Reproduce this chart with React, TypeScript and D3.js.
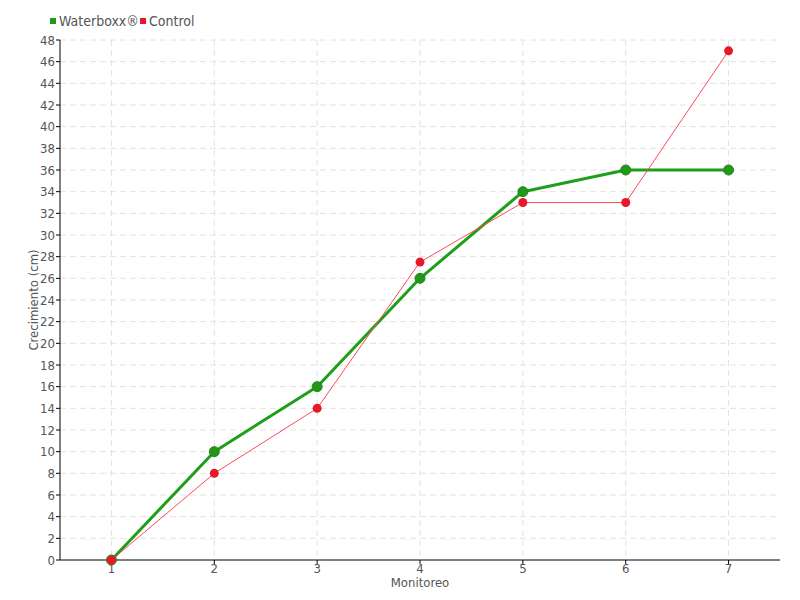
import React from "react";
import * as d3 from "d3";

const categories = ["1", "2", "3", "4", "5", "6", "7"];
const waterboxx = [0, 10, 16, 26, 34, 36, 36];
const control = [0, 8, 14, 27.5, 33, 33, 47];
const yTicks = d3.range(0, 49, 2);

const W = 800, H = 600;
const m = { left: 60, right: 20, top: 40, bottom: 40 };

export default function App() {
  const x = d3.scaleBand().domain(categories).range([m.left, W - m.right]);
  const y = d3.scaleLinear().domain([0, 48]).range([H - m.bottom, m.top]);
  const cx = (c: string) => (x(c) as number) + x.bandwidth() / 2;
  const line = d3.line<number>().x((_, i) => cx(categories[i])).y((d) => y(d));
  const font = "'DejaVu Sans Condensed', 'Liberation Sans Narrow', sans-serif";
  const txt = "#555";
  return (
    <svg width={W} height={H} style={{ position: "absolute", left: 0, top: 0 }} fontFamily={font}>
      <rect width={W} height={H} fill="#fff" />
      {yTicks.filter((t) => t > 0).map((t) => (
        <line key={"gy" + t} x1={m.left} x2={W - m.right} y1={y(t)} y2={y(t)} stroke="#e2e2e2" strokeDasharray="6,4" />
      ))}
      {categories.map((c) => (
        <line key={"gx" + c} x1={cx(c)} x2={cx(c)} y1={m.top} y2={H - m.bottom} stroke="#e2e2e2" strokeDasharray="6,4" />
      ))}
      <line x1={m.left} x2={m.left} y1={m.top} y2={H - m.bottom} stroke="#000" />
      <line x1={m.left} x2={W - m.right} y1={H - m.bottom} y2={H - m.bottom} stroke="#000" />
      {yTicks.map((t) => (
        <g key={"ty" + t}>
          <line x1={m.left - 4} x2={m.left} y1={y(t)} y2={y(t)} stroke="#000" />
          <text x={m.left - 5} y={y(t)} dy="0.35em" textAnchor="end" fontSize={13} fill={txt}>{t}</text>
        </g>
      ))}
      {categories.map((c) => (
        <g key={"tx" + c}>
          <line x1={cx(c)} x2={cx(c)} y1={H - m.bottom} y2={H - m.bottom + 4} stroke="#000" />
          <text x={cx(c)} y={H - m.bottom + 13} textAnchor="middle" fontSize={13} fill={txt}>{c}</text>
        </g>
      ))}
      <text x={(m.left + W - m.right) / 2} y={587} textAnchor="middle" fontSize={13} fill={txt}>Monitoreo</text>
      <text transform={`translate(38,${(m.top + H - m.bottom) / 2}) rotate(-90)`} textAnchor="middle" fontSize={13} fill={txt}>Crecimiento (cm)</text>
      <path d={line(waterboxx) || ""} fill="none" stroke="#1f9e1a" strokeWidth={3} strokeLinejoin="round" />
      <path d={line(control) || ""} fill="none" stroke="#ff4a5a" strokeWidth={1} />
      {waterboxx.map((v, i) => (
        <circle key={"w" + i} cx={cx(categories[i])} cy={y(v)} r={5} fill="#1e9a14" stroke="#2e7d2a" strokeWidth={1} />
      ))}
      {control.map((v, i) => (
        <circle key={"c" + i} cx={cx(categories[i])} cy={y(v)} r={4.5} fill="#e8182a" />
      ))}
      <rect x={50} y={18} width={6} height={6} fill="#1e9a14" />
      <text x={59} y={26} fontSize={14} fill={txt}>Waterboxx®</text>
      <rect x={140} y={18} width={6} height={6} fill="#e8182a" />
      <text x={149} y={26} fontSize={14} fill={txt}>Control</text>
    </svg>
  );
}
